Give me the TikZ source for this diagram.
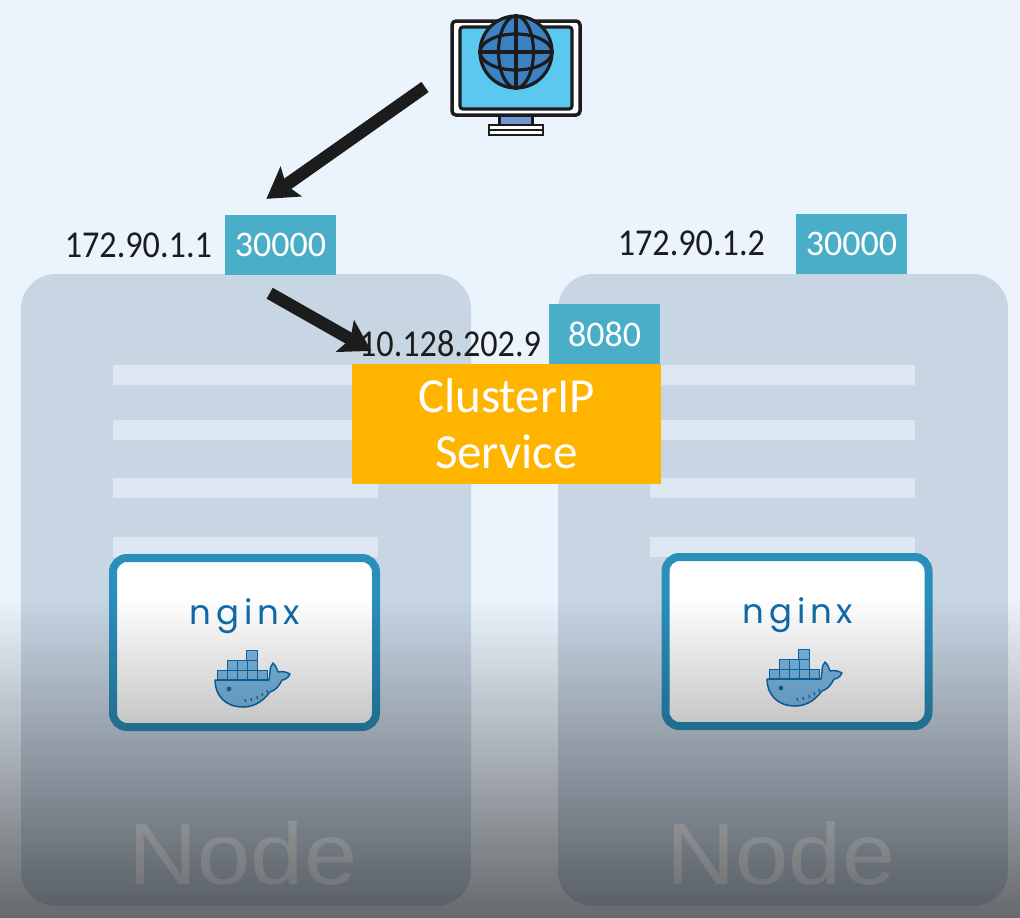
\documentclass[tikz,border=0pt]{standalone}
\usepackage{fontspec}
\setmainfont{Carlito}
\newfontfamily\logofont[LetterSpace=14]{Poppins}
\newfontfamily\nodefont{Liberation Sans}
\usetikzlibrary{arrows.meta,positioning,calc,fadings}
\definecolor{Backdrop}{HTML}{EBF4FD}
\definecolor{NodeGrey}{HTML}{C8D6E4}
\definecolor{RowPale}{HTML}{DCE7F2}
\definecolor{PortBlue}{HTML}{4AAEC9}
\definecolor{Amber}{HTML}{FFB400}
\definecolor{PodEdge}{HTML}{2A8FBB}
\definecolor{LogoBlue}{HTML}{0F6CAB}
\definecolor{WhaleFill}{HTML}{7DBCE8}
\definecolor{Screen}{HTML}{5BC8EF}
\definecolor{Globe}{HTML}{3B82C4}
\definecolor{Stand}{HTML}{7596D4}
\definecolor{Ink}{HTML}{1C1C1C}
\definecolor{NodeWord}{HTML}{EEF3F8}
\tikzfading[name=fadedark, top color=transparent!100, bottom color=transparent!43]
\tikzset{
  workernode/.style={rounded corners=35pt, fill=NodeGrey, minimum width=450pt, minimum height=632pt, inner sep=0pt, outer sep=0pt},
  rowbar/.style={fill=RowPale, minimum width=265pt, minimum height=20pt, inner sep=0pt, outer sep=0pt},
  portbox/.style={fill=PortBlue, text=white, minimum width=111pt, minimum height=60pt, inner sep=0pt, outer sep=0pt, font=\fontsize{36}{40}\selectfont},
  iptext/.style={text=Ink, inner sep=0pt, outer sep=0pt, xscale=0.9, font=\fontsize{38}{42}\selectfont},
  servicebox/.style={fill=Amber, text=white, align=center, minimum width=309pt, minimum height=120pt, inner sep=0pt, outer sep=0pt, font=\fontsize{49}{56}\selectfont},
  podbox/.style={draw=PodEdge, line width=8pt, fill=white, rounded corners=14pt, minimum width=263pt, minimum height=169pt, inner sep=0pt},
  logotext/.style={text=LogoBlue, inner sep=0pt, font=\logofont\fontsize{34}{38}\selectfont},
  nodeword/.style={text=NodeWord, inner sep=0pt, xscale=1.1, font=\nodefont\fontsize{87}{90}\selectfont},
  bigarrow/.style={-{Stealth[length=30pt,width=36pt,inset=6pt]}, line width=12.5pt, draw=Ink},
  iconline/.style={draw=Ink, line width=3.2pt},
  dockerwhale/.pic={
    \path[draw=LogoBlue, fill=WhaleFill, line width=1.5pt, line join=round] (0,0) -- (54,0) .. controls (54,-4) .. (55,-7) .. controls (55,-12) and (56,-15) .. (58,-17) .. controls (61,-14) and (62,-11) .. (63,-8) .. controls (67,-9) and (72,-8) .. (75,-6) .. controls (73,-2) and (70,0) .. (67,0) .. controls (63,8) and (60,10) .. (55,12) .. controls (46,24) and (36,27) .. (28,27) .. controls (10,27) and (0,15) .. (0,0) -- cycle;
    \foreach \x in {2,12,22,32,42} \draw[draw=LogoBlue, fill=WhaleFill, line width=1pt] (\x,-10) rectangle ++(10,9);
    \foreach \x in {12,22,32} \draw[draw=LogoBlue, fill=WhaleFill, line width=1pt] (\x,-20) rectangle ++(10,10);
    \draw[draw=LogoBlue, fill=WhaleFill, line width=1pt] (31,-30) rectangle ++(11,10);
    \fill[LogoBlue] (14,9) circle (2.4pt);
    \foreach \x/\y in {30/19,36/18,42/16,47/13,52/10} \draw[LogoBlue, line width=1.2pt] (\x,\y) -- ++(0.6,3);
  }
}
\begin{document}
\begin{tikzpicture}[x=1pt,y=-1pt]
\useasboundingbox (0,0) rectangle (1020,918);
\fill[Backdrop] (0,0) rectangle (1020,918);
% the two machines
\node[workernode] (nodeA) at (246,590) {};
\node[workernode] (nodeB) at (783,590) {};
\foreach \y in {375,430,488,547} {
  \node[rowbar] (rowA\y) at (245.5,\y) {};
  \node[rowbar] (rowB\y) at (782.5,\y) {};
}
% ports and addresses
\node[portbox] (portA) at (280.5,245) {30000};
\node[portbox] (portB) at (851.5,243.5) {30000};
\node[iptext, left=13pt of portA] (ipA) {172.90.1.1};
\node[iptext, left=31pt of portB] (ipB) {172.90.1.2};
\node[servicebox] (cluster) at (506.5,424) {ClusterIP\\Service};
\node[portbox, anchor=south east, xshift=-1pt] (portC) at (cluster.north east) {8080};
\node[iptext, left=8pt of portC, yshift=-10pt] (ipC) {10.128.202.9};
% pods
\node[podbox] (podA) at (244.5,642.5) {};
\node[podbox] (podB) at (797,641.5) {};
\node[logotext] (logoA) at (245,616) {nginx};
\node[logotext] (logoB) at (798,615) {nginx};
\pic at (215,680) {dockerwhale};
\pic at (767,679) {dockerwhale};
\node[nodeword] (wordA) at (243,853) {Node};
\node[nodeword] (wordB) at (781,853) {Node};
% browser
\node[draw=Ink, line width=3.5pt, fill=white, rounded corners=4pt, minimum width=128pt, minimum height=94pt, inner sep=0pt, outer sep=0pt] (monitor) at (516,68) {};
\node[draw=Ink, line width=3.2pt, fill=Screen, rounded corners=3pt, minimum width=112pt, minimum height=82pt, inner sep=0pt] (screen) at (monitor.center) {};
\node[draw=Ink, line width=3pt, fill=Stand, minimum width=33pt, minimum height=10pt, inner sep=0pt, outer sep=0pt, below=0pt of monitor] (stand) {};
\node[draw=Ink, line width=2.8pt, fill=white, minimum width=54pt, minimum height=10pt, inner sep=0pt, outer sep=0pt, below=0pt of stand] (base) {};
\draw[draw=Ink, line width=1.8pt] (base.west) -- (base.east);
\node[circle, iconline, fill=Globe, minimum size=72pt, inner sep=0pt] (globe) at (516,52) {};
\draw[iconline] (globe.center) ellipse [x radius=17.5pt, y radius=36pt];
\draw[iconline] (globe.center) ellipse [x radius=36pt, y radius=18pt];
\draw[iconline] (globe.north) -- (globe.south);
\draw[iconline] (globe.west) -- (globe.east);
% arrows
\coordinate (webin) at ($(portA.north)+(-37,0)$);
\coordinate (portout) at ($(portA.south)+(-43,0)$);
\draw[bigarrow, shorten <=33pt, shorten >=28pt] (monitor.west) -- (webin);
\draw[bigarrow, shorten <=37pt, shorten >=-14pt] (portout) -- (ipC.west);
% darkening towards the bottom
\fill[black, path fading=fadedark] (0,598) rectangle (1020,918);
\end{tikzpicture}
\end{document}
